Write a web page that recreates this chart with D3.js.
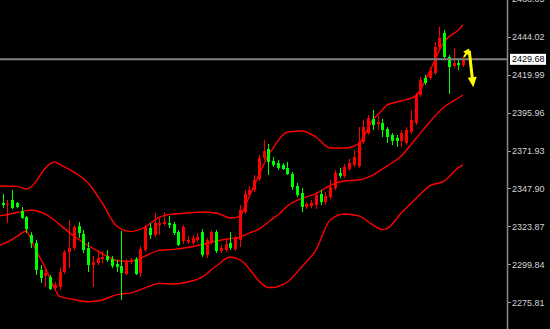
<!doctype html>
<html lang="en">
<head>
<meta charset="utf-8">
<title>candles with bands</title>
<style>
 body{ margin:0; background:#000; }
 #chart{ width:550px; height:329px; background-color:#000; }
 .y-axis path{ display:none; }
 .y-axis line{ stroke:#9a9a9a; shape-rendering:crispEdges; }
 .y-axis text{ font-family:"Liberation Sans", Arial, sans-serif; font-size:9px; fill:#d4d4d4; }
</style>
</head>
<body>
<div id="chart"></div>
<script src="https://cdn.jsdelivr.net/npm/d3@7"></script>
<script type="text/javascript">

// candle prices, one value per bar (oldest first)
var opens = [
 2338.7, 2337.4, 2340.6, 2338.7, 2333.6, 2329.8, 2318.4, 2313.4, 2296.3, 2292.5,
 2291.8, 2284.9, 2285.5, 2295.0, 2307.7, 2310.2, 2324.1, 2319.1, 2310.2, 2299.4,
 2300.7, 2303.2, 2305.1, 2303.2, 2300.1, 2298.8, 2293.7, 2301.3, 2303.2, 2294.4,
 2308.9, 2322.9, 2318.4, 2324.8, 2325.4, 2326.0, 2325.4, 2320.3, 2314.6, 2314.0,
 2313.4, 2315.3, 2320.3, 2305.8, 2313.4, 2320.3, 2308.3, 2308.9, 2313.4, 2309.6,
 2315.3, 2333.0, 2343.8, 2346.9, 2353.9, 2367.2, 2372.9, 2365.3, 2364.0, 2362.8,
 2360.9, 2357.1, 2349.5, 2345.0, 2336.2, 2336.8, 2337.4, 2344.4, 2339.3, 2342.5,
 2348.2, 2357.7, 2355.8, 2360.2, 2362.8, 2362.1, 2377.3, 2383.0, 2391.9, 2388.7,
 2389.4, 2385.6, 2381.8, 2379.9, 2378.0, 2376.7, 2383.7, 2389.4, 2407.1, 2417.9,
 2417.9, 2421.0, 2437.5, 2446.4, 2431.2, 2425.5, 2427.4, 2426.1
];
var highs = [
 2344.4, 2340.6, 2346.9, 2339.3, 2336.2, 2330.5, 2320.3, 2315.3, 2299.4, 2298.2,
 2293.1, 2288.7, 2297.5, 2308.9, 2327.9, 2324.8, 2326.7, 2321.6, 2314.0, 2305.1,
 2308.9, 2308.3, 2308.9, 2305.1, 2302.6, 2321.0, 2303.2, 2303.9, 2304.5, 2311.5,
 2324.8, 2326.0, 2332.4, 2329.2, 2333.0, 2330.5, 2326.7, 2321.6, 2324.8, 2317.8,
 2318.4, 2319.7, 2322.2, 2316.5, 2321.6, 2321.6, 2312.1, 2315.3, 2320.3, 2317.8,
 2337.4, 2346.9, 2349.5, 2356.4, 2369.1, 2378.6, 2376.1, 2367.8, 2365.9, 2364.0,
 2364.7, 2358.3, 2351.4, 2348.2, 2339.3, 2340.6, 2345.7, 2346.9, 2345.7, 2353.3,
 2359.6, 2360.9, 2363.4, 2366.6, 2372.3, 2386.8, 2391.3, 2394.4, 2397.6, 2393.8,
 2391.9, 2386.8, 2383.0, 2381.8, 2384.9, 2386.8, 2397.6, 2408.4, 2418.5, 2419.8,
 2424.8, 2440.7, 2450.2, 2448.3, 2432.4, 2436.9, 2430.5, 2431.2
];
var lows = [
 2335.5, 2326.0, 2334.9, 2335.5, 2328.6, 2319.7, 2310.2, 2293.1, 2288.0, 2285.5,
 2283.6, 2283.6, 2283.6, 2293.7, 2297.5, 2308.9, 2316.5, 2307.0, 2295.0, 2285.5,
 2299.4, 2300.7, 2301.3, 2297.5, 2295.0, 2277.3, 2293.1, 2300.1, 2293.1, 2291.8,
 2307.7, 2315.9, 2317.2, 2318.4, 2324.1, 2322.9, 2318.4, 2311.5, 2312.7, 2312.7,
 2312.1, 2314.0, 2304.5, 2303.9, 2312.1, 2307.0, 2307.0, 2307.7, 2308.9, 2308.3,
 2310.8, 2331.7, 2342.5, 2345.7, 2352.6, 2365.9, 2356.4, 2361.5, 2359.6, 2359.6,
 2356.4, 2346.9, 2342.5, 2333.0, 2334.9, 2335.5, 2334.9, 2337.4, 2337.4, 2341.2,
 2346.9, 2354.5, 2354.5, 2359.0, 2361.5, 2360.9, 2376.1, 2381.8, 2384.9, 2384.9,
 2380.5, 2376.7, 2375.4, 2374.2, 2374.2, 2375.4, 2382.4, 2388.1, 2405.8, 2413.4,
 2416.6, 2419.8, 2435.6, 2430.5, 2407.7, 2424.2, 2422.9, 2424.8
];
var closes = [
 2337.4, 2338.1, 2335.5, 2336.2, 2329.2, 2322.2, 2313.4, 2296.3, 2291.2, 2294.4,
 2284.2, 2286.8, 2295.0, 2307.7, 2310.2, 2323.5, 2319.7, 2308.9, 2299.4, 2301.3,
 2303.9, 2304.5, 2302.6, 2298.8, 2298.2, 2294.4, 2301.3, 2302.6, 2293.7, 2309.6,
 2323.5, 2318.4, 2326.0, 2326.0, 2326.7, 2324.8, 2319.7, 2312.1, 2323.5, 2315.3,
 2316.5, 2317.2, 2305.8, 2315.3, 2320.3, 2308.3, 2310.2, 2312.7, 2310.2, 2316.5,
 2334.3, 2344.4, 2346.9, 2353.3, 2367.2, 2371.6, 2364.7, 2362.8, 2360.9, 2360.2,
 2357.1, 2348.8, 2343.8, 2336.2, 2338.1, 2338.7, 2343.8, 2339.3, 2343.1, 2348.8,
 2357.7, 2355.8, 2361.5, 2364.0, 2367.8, 2377.3, 2386.8, 2392.5, 2388.1, 2390.0,
 2384.9, 2380.5, 2378.0, 2378.0, 2383.0, 2384.9, 2391.3, 2407.1, 2416.6, 2414.7,
 2422.9, 2437.5, 2443.2, 2431.2, 2424.8, 2427.4, 2426.1, 2429.68
];

// bollinger bands, read at these bar positions
var bandIdx = [-0.6, 0, 3, 5, 6, 7, 9, 11, 12, 15, 18, 21, 24, 27, 30, 33, 36, 39, 42, 45,
 48, 50, 51, 52, 54, 56, 57, 58, 60, 63, 66, 69, 72, 75, 78, 80, 81, 84, 87, 90, 93, 96, 97];
var upperBand = [2349.5, 2349.5, 2349.2, 2347.6, 2348.8, 2352.3, 2360.9, 2364.7, 2363.1, 2358.3,
 2351.4, 2338.7, 2324.1, 2320.6, 2323.5, 2329.8, 2331.7, 2332.4, 2333.0, 2332.4,
 2329.2, 2330.2, 2336.2, 2343.1, 2356.4, 2369.1, 2373.5, 2378.0, 2383.7, 2384.3,
 2380.5, 2373.5, 2373.5, 2376.1, 2391.3, 2397.6, 2400.8, 2403.3, 2406.5, 2422.3,
 2440.7, 2448.3, 2451.4];
var middleBand = [2330.7, 2330.9, 2332.7, 2333.9, 2334.3, 2333.8, 2331.7, 2327.6, 2325.0, 2317.8,
 2311.8, 2306.7, 2302.3, 2301.7, 2305.1, 2308.7, 2309.3, 2310.5, 2312.4, 2314.6,
 2316.2, 2317.0, 2318.4, 2319.7, 2322.2, 2326.7, 2329.0, 2331.1, 2336.8, 2341.6,
 2344.7, 2349.8, 2352.6, 2353.3, 2356.4, 2360.2, 2362.1, 2368.5, 2379.2, 2390.0,
 2399.5, 2405.2, 2407.1];
var lowerBand = [2312.1, 2312.7, 2317.5, 2321.0, 2315.3, 2308.9, 2297.5, 2284.2, 2279.5, 2277.6,
 2276.2, 2277.3, 2280.7, 2281.8, 2284.9, 2287.8, 2287.4, 2288.7, 2291.8, 2298.8,
 2304.5, 2302.6, 2300.4, 2296.9, 2289.3, 2285.2, 2285.2, 2285.8, 2288.7, 2298.2,
 2308.9, 2327.9, 2331.7, 2330.5, 2324.8, 2321.9, 2322.5, 2332.4, 2341.2, 2349.5,
 2352.6, 2360.9, 2362.8];

var tickLabels = [2275.81, 2299.84, 2323.87, 2347.90, 2371.93, 2395.96, 2419.99, 2444.02, 2468.05];
var lastPrice = 2429.68;

// yellow zigzag arrow (bar position, price)
var arrowIdx = [97.22, 98.32, 99.16];
var arrowPrice = [2431.2, 2436.5, 2412.0];

var chartWidth = 550;
var chartHeight = 329;
var axisX = 507.5;

var svg = d3.select('#chart')
  .append('svg')
  .attr('width', chartWidth)
  .attr('height', chartHeight);

svg.append('rect')
  .attr('width', chartWidth)
  .attr('height', chartHeight)
  .attr('fill', '#000');

var xscale = d3.scaleLinear()
  .domain([0, opens.length - 1])
  .range([2.7, 463]);

var yscale = d3.scaleLinear()
  .domain([2275.81, 2444.02])
  .range([302.3, 36.7]);

// bands
var bandLine = d3.line()
  .x(function(d){ return xscale(d[0]); })
  .y(function(d){ return yscale(d[1]); })
  .curve(d3.curveMonotoneX);

[upperBand, middleBand, lowerBand].forEach(function(band){
  svg.append('path')
    .datum(bandIdx.map(function(idx, i){ return [idx, band[i]]; }))
    .attr('d', bandLine)
    .attr('fill', 'none')
    .attr('stroke', '#ff0000')
    .attr('stroke-width', 1.4);
});

// candles
var candles = opens.map(function(o, i){
  return { i: i, o: o, h: highs[i], l: lows[i], c: closes[i] };
});

var g = svg.append('g');

g.selectAll('line.wick')
  .data(candles)
  .enter()
  .append('line')
  .attr('class', 'wick')
  .attr('x1', function(d){ return Math.round(xscale(d.i)) + 0.5; })
  .attr('x2', function(d){ return Math.round(xscale(d.i)) + 0.5; })
  .attr('y1', function(d){ return yscale(d.h); })
  .attr('y2', function(d){ return yscale(d.l); })
  .attr('stroke', function(d){ return d.c >= d.o ? '#ff0000' : '#00ff00'; })
  .attr('stroke-width', 1);

g.selectAll('rect.body')
  .data(candles)
  .enter()
  .append('rect')
  .attr('class', 'body')
  .attr('x', function(d){ return Math.round(xscale(d.i)) - 1; })
  .attr('width', 3)
  .attr('y', function(d){ return yscale(Math.max(d.o, d.c)); })
  .attr('height', function(d){ return Math.max(1, Math.abs(yscale(d.o) - yscale(d.c))); })
  .attr('fill', function(d){ return d.c >= d.o ? '#ff0000' : '#00ff00'; });

// current price line
svg.append('line')
  .attr('x1', 0)
  .attr('x2', axisX)
  .attr('y1', yscale(lastPrice))
  .attr('y2', yscale(lastPrice))
  .attr('stroke', '#808080')
  .attr('stroke-width', 2);

// yellow arrow
var pts = arrowIdx.map(function(idx, i){ return [xscale(idx), yscale(arrowPrice[i])]; });

function head(from, to, len, halfW){
  var dx = to[0] - from[0], dy = to[1] - from[1];
  var n = Math.sqrt(dx * dx + dy * dy);
  var ux = dx / n, uy = dy / n;
  var bx = to[0] - ux * len, by = to[1] - uy * len;
  return [[to[0], to[1]], [bx - uy * halfW, by + ux * halfW], [bx + uy * halfW, by - ux * halfW]];
}

function backOff(from, to, len){
  var dx = to[0] - from[0], dy = to[1] - from[1];
  var n = Math.sqrt(dx * dx + dy * dy);
  return [to[0] - dx / n * len, to[1] - dy / n * len];
}

var upEnd = backOff(pts[0], pts[1], 4);
svg.append('line')
  .attr('x1', pts[0][0]).attr('y1', pts[0][1])
  .attr('x2', upEnd[0]).attr('y2', upEnd[1])
  .attr('stroke', '#ffff00').attr('stroke-width', 2);
svg.append('polygon')
  .attr('points', head(pts[0], pts[1], 6, 3.5).join(' '))
  .attr('fill', '#ffff00');

var downEnd = backOff(pts[1], pts[2], 8);
svg.append('line')
  .attr('x1', pts[1][0]).attr('y1', pts[1][1] + 2)
  .attr('x2', downEnd[0]).attr('y2', downEnd[1])
  .attr('stroke', '#ffff00').attr('stroke-width', 3);
svg.append('polygon')
  .attr('points', head(pts[1], pts[2], 10, 4.5).join(' '))
  .attr('fill', '#ffff00');

// price axis
svg.append('line')
  .attr('x1', axisX).attr('x2', axisX)
  .attr('y1', 0).attr('y2', chartHeight)
  .attr('stroke', '#8a8a8a')
  .attr('stroke-width', 1.5);

var yaxis = d3.axisRight(yscale)
  .tickValues(tickLabels)
  .tickSize(3)
  .tickPadding(1)
  .tickFormat(d3.format('.2f'));

svg.append('g')
  .attr('class', 'y-axis')
  .attr('transform', 'translate(' + (axisX + 0.5) + ',0)')
  .call(yaxis);

// last price tag
var tag = svg.append('g')
  .attr('transform', 'translate(510,' + yscale(lastPrice) + ')');
tag.append('rect')
  .attr('x', 0).attr('y', -5.5)
  .attr('width', 36).attr('height', 11)
  .attr('fill', '#ffffff');
tag.append('text')
  .attr('x', 2).attr('y', 0).attr('dy', '0.35em')
  .attr('font-family', '"Liberation Sans", Arial, sans-serif')
  .attr('font-size', '9px')
  .attr('fill', '#000')
  .text(d3.format('.2f')(lastPrice));

</script>
</body>
</html>
